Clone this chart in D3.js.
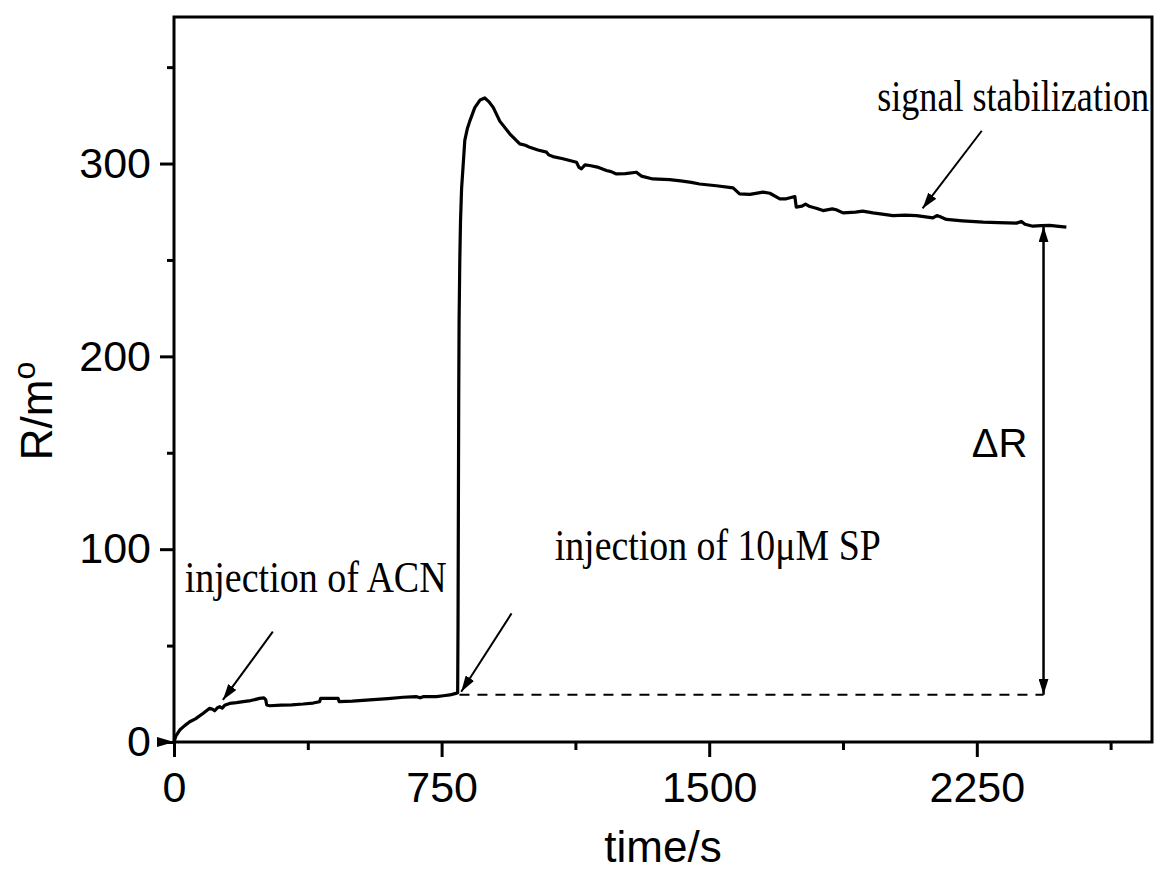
<!DOCTYPE html>
<html>
<head>
<meta charset="utf-8">
<script src="https://cdn.jsdelivr.net/npm/d3@7"></script>
<style>
  body { margin: 0; background: #fff; }
  svg { display: block; }
</style>
</head>
<body>
<div id="vis"></div>
<script>
const width = 1156
const height = 870
const marginLeft = 174
const marginRight = 4
const marginTop = 17
const marginBottom = 128

// time (s) and response R (m°)
const timeValues = [0, 5, 16, 30, 44, 60, 82, 100, 108, 114, 122, 128, 135, 142, 156, 175, 194, 215, 240, 252, 257, 260, 268, 300, 330, 362, 390, 408, 411, 440, 460, 463, 500, 549, 600, 642, 665, 680, 690, 700, 735, 755, 773, 790, 795,
    796, 797, 798, 799, 801, 803, 806, 810, 815, 822, 829, 843, 858, 871, 883, 895, 913, 941, 969, 985, 997, 1020, 1044, 1050, 1062, 1090, 1128, 1135, 1142, 1152, 1165, 1190, 1212, 1225, 1240, 1265, 1296, 1305, 1310, 1342, 1389, 1420, 1450, 1473, 1520,
    1567, 1585, 1614, 1651, 1670, 1698, 1716, 1740, 1744, 1760, 1770, 1782, 1800, 1819, 1845, 1856, 1875, 1910, 1930, 1959, 1990, 2015, 2050, 2081, 2127, 2138, 2146, 2165, 2210, 2268, 2310, 2361, 2375, 2385, 2407, 2430, 2454, 2480, 2501]
const signalValues = [0, 3, 6.2, 8.5, 10.5, 12, 14.9, 17.5, 17, 16.2, 17.8, 18.3, 17.6, 19, 20, 20.4, 20.9, 21.5, 22.6, 22.9, 22, 19.2, 18.8, 19.1, 19.3, 19.7, 20.2, 20.9, 22.6, 22.6, 22.6, 20.9, 21.2, 21.8, 22.5, 23.2, 23.4, 23.5, 22.9, 23.6, 23.5, 24, 24.4, 25.2, 25.5,
    60, 120, 180, 218, 250, 270, 287, 298, 312, 318, 322, 329, 333, 334, 332, 329, 322, 315.4, 310.2, 309.5, 308.4, 307, 305.9, 304.5, 303.6, 302.5, 300.7, 298, 297.3, 299.3, 299, 298, 296.4, 295.8, 294.6, 294.8, 295.5, 294.2, 293.5, 292, 291.7, 291, 290.2, 289.4, 288.5,
    287.4, 284.3, 284, 285.2, 284.6, 281.7, 281.7, 282.9, 277.4, 277.9, 279, 277.7, 276.8, 275.6, 276.5, 276, 274.4, 274.8, 275.3, 274.4, 273.6, 273, 273.2, 273, 271.8, 273, 272.5, 271, 270.3, 269.6, 269.4, 269.1, 270, 268.5, 267.5, 267.8, 267.9, 267.4, 267]

const xMajorTicks = [0, 750, 1500, 2250]
const xMinorTicks = [375, 1125, 1875, 2625]
const yMajorTicks = [0, 100, 200, 300]
const yMinorTicks = [50, 150, 250, 350]

const baselineLevel = 24.5
const deltaTime = 2437
const plateauLevel = 267.5

const data = timeValues.map((t, i) => ({ t, r: signalValues[i] }))

const svg = d3.select("#vis")
    .append("svg")
    .attr("width", width)
    .attr("height", height)

const x = d3.scaleLinear([0, 2741], [marginLeft, width - marginRight])
const y = d3.scaleLinear([0, 376], [height - marginBottom, marginTop])

const defs = svg.append("defs")
defs.append("marker")
    .attr("id", "head")
    .attr("viewBox", "0 0 16 10")
    .attr("refX", 16)
    .attr("refY", 5)
    .attr("markerWidth", 16)
    .attr("markerHeight", 10)
    .attr("markerUnits", "userSpaceOnUse")
    .attr("orient", "auto-start-reverse")
  .append("path")
    .attr("d", "M0,0 L16,5 L0,10 Z")
    .attr("fill", "#000")

const tickFont = "Liberation Sans, Arial, sans-serif"
const noteFont = "Liberation Serif, Times New Roman, serif"

// axes
const xAxis = svg.append("g")
    .attr("transform", `translate(0, ${height - marginBottom})`)
    .call(d3.axisBottom(x).tickValues(xMajorTicks).tickSize(15).tickPadding(14).tickFormat(d3.format("d")))
const xMinor = svg.append("g")
    .attr("transform", `translate(0, ${height - marginBottom})`)
    .call(d3.axisBottom(x).tickValues(xMinorTicks).tickSize(8).tickFormat(""))
const yAxis = svg.append("g")
    .attr("transform", `translate(${marginLeft}, 0)`)
    .call(d3.axisLeft(y).tickValues(yMajorTicks).tickSize(14).tickPadding(9))
const yMinor = svg.append("g")
    .attr("transform", `translate(${marginLeft}, 0)`)
    .call(d3.axisLeft(y).tickValues(yMinorTicks).tickSize(7).tickFormat(""))

for (const g of [xAxis, xMinor, yAxis, yMinor]) {
    g.select(".domain").remove()
    g.selectAll(".tick line").attr("stroke", "#000").attr("stroke-width", 3)
    g.selectAll(".tick text")
        .attr("fill", "#000")
        .style("font-family", tickFont)
        .style("font-size", "43px")
}

// frame
svg.append("rect")
    .attr("x", x(0))
    .attr("y", y(376))
    .attr("width", x(2741) - x(0))
    .attr("height", y(0) - y(376))
    .attr("fill", "none")
    .attr("stroke", "#000")
    .attr("stroke-width", 3)

// axis titles
svg.append("text")
    .attr("x", (x(0) + x(2741)) / 2)
    .attr("y", 862)
    .attr("text-anchor", "middle")
    .style("font-family", tickFont)
    .style("font-size", "44px")
    .text("time/s")

const yTitle = svg.append("text")
    .attr("transform", `translate(52, 411) rotate(-90)`)
    .attr("text-anchor", "middle")
    .style("font-family", tickFont)
    .style("font-size", "44px")
yTitle.append("tspan").text("R/m")
yTitle.append("tspan").attr("dy", -17).style("font-size", "32px").text("o")

// trace
svg.append("path")
    .datum(data)
    .attr("fill", "none")
    .attr("stroke", "#000")
    .attr("stroke-width", 3.2)
    .attr("stroke-linejoin", "round")
    .attr("d", d3.line().x(d => x(d.t)).y(d => y(d.r)))

// dashed baseline and delta R arrow
svg.append("line")
    .attr("x1", x(800)).attr("x2", x(deltaTime))
    .attr("y1", y(baselineLevel)).attr("y2", y(baselineLevel))
    .attr("stroke", "#000")
    .attr("stroke-width", 2)
    .attr("stroke-dasharray", "10,8")

svg.append("line")
    .attr("x1", x(deltaTime)).attr("x2", x(deltaTime))
    .attr("y1", y(baselineLevel)).attr("y2", y(plateauLevel))
    .attr("stroke", "#000")
    .attr("stroke-width", 2.5)
    .attr("marker-start", "url(#head)")
    .attr("marker-end", "url(#head)")

// annotation arrows: [fromT, fromR, toT, toR]
const arrows = [
    [277, 57.2, 137, 21.8],
    [946, 66.7, 805, 26.1],
    [2264, 317, 2098, 276.7]
]
svg.selectAll("line.note-arrow")
    .data(arrows)
    .join("line")
        .attr("class", "note-arrow")
        .attr("x1", d => x(d[0])).attr("y1", d => y(d[1]))
        .attr("x2", d => x(d[2])).attr("y2", d => y(d[3]))
        .attr("stroke", "#000")
        .attr("stroke-width", 2)
        .attr("marker-end", "url(#head)")

// little start marker on the y axis
svg.append("path")
    .attr("d", `M${x(0) - 17},${y(0) - 5} L${x(0)},${y(0)} L${x(0) - 17},${y(0) + 5} Z`)
    .attr("fill", "#000")

// labels: [text, t, r, anchor, drawn width]
const notes = [
    ["injection of ACN", 30, 77.7, "start", 262],
    ["injection of 10\u03bcM SP", 1067, 94.3, "start", 326],
    ["signal stabilization", 2733, 327.5, "end", 272]
]
svg.selectAll("text.note")
    .data(notes)
    .join("text")
        .attr("class", "note")
        .attr("x", d => x(d[1]))
        .attr("y", d => y(d[2]))
        .attr("text-anchor", d => d[3])
        .attr("textLength", d => d[4])
        .attr("lengthAdjust", "spacingAndGlyphs")
        .style("font-family", noteFont)
        .style("font-size", "44px")
        .text(d => d[0])

svg.append("text")
    .attr("x", x(2236))
    .attr("y", y(148))
    .style("font-family", tickFont)
    .style("font-size", "40px")
    .text("\u0394R")
</script>
</body>
</html>
